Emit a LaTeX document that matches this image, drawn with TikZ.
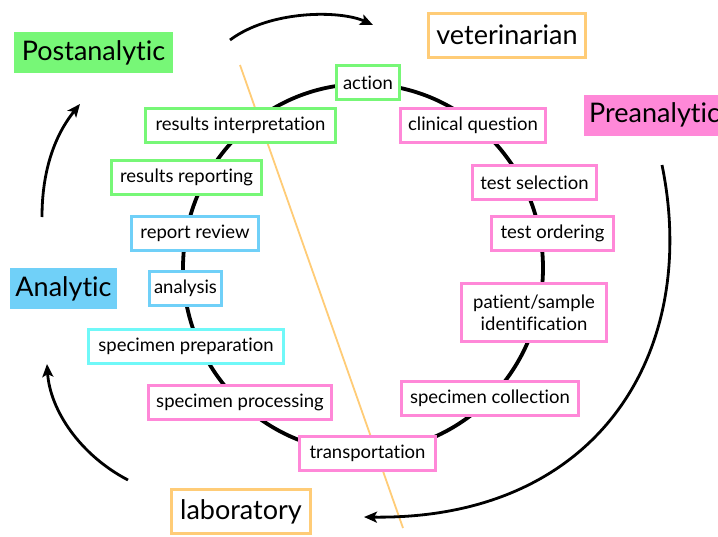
\documentclass[tikz,border=0pt]{standalone}
\usepackage{fontspec}
\setmainfont{Lato}[Ligatures={NoCommon,NoRare,NoContextual}, Contextuals=NoAlternate]
\usetikzlibrary{arrows.meta}
\definecolor{postgreen}{HTML}{77F777}
\definecolor{prepink}{HTML}{FF88D8}
\definecolor{anablue}{HTML}{70D0F8}
\definecolor{anacyan}{HTML}{70F8F8}
\definecolor{siteorange}{HTML}{FFCC77}
\begin{document}
\begin{tikzpicture}[x=1pt, y=-1pt, >={Stealth[length=13pt, width=11pt, inset=3pt]},
    every node/.style={inner sep=0pt, font=\fontsize{18.5}{22}\selectfont},
    stepbox/.style={draw=#1, line width=3pt, fill=white, minimum height=34pt},
    phase/.style={fill=#1, font=\fontsize{27}{32}\selectfont, minimum height=41pt},
    sitebox/.style={draw=siteorange, line width=3pt, fill=white, font=\fontsize{27}{32}\selectfont, minimum height=44pt},
    cycle/.style={line width=2.8pt}]
  \useasboundingbox (0,0) rectangle (718,536);
  \clip (0,0) rectangle (718,536);
  \fill[white] (0,0) rectangle (718,536);

  % 分隔线
  \coordinate (cutA) at (240,65);
  \coordinate (cutB) at (403,528);
  \draw[siteorange, line width=1.8pt] (cutA) -- (cutB);

  % 流程圈
  \draw[line width=3.8pt] (363,268) ellipse [x radius=180, y radius=184];

  % 阶段标签
  \node[phase=postgreen, minimum width=159pt] (post) at (93.5,52.5) {Postanalytic};
  \node[phase=prepink, anchor=west, inner xsep=5pt] (pre) at (584,115) {Preanalytic};
  \node[phase=anablue, minimum width=107pt] (ana) at (63.5,288.5) {Analytic};

  % 地点
  \node[sitebox, minimum width=157pt] (vet) at (507,35) {veterinarian};
  \node[sitebox, minimum width=139pt] (lab) at (241,511.5) {laboratory};

  % 各步骤
  \node[stepbox=postgreen, minimum width=63pt] (action) at (368,82.5) {action};
  \node[stepbox=postgreen, minimum width=190pt] (interp) at (240.5,125) {results interpretation};
  \node[stepbox=postgreen, minimum width=150pt] (report) at (186.5,177.5) {results reporting};
  \node[stepbox=anablue, minimum width=127pt] (review) at (195,233.5) {report review};
  \node[stepbox=anablue, minimum width=72pt] (analysis) at (185.5,288) {analysis};
  \node[stepbox=anacyan, minimum width=195pt] (prep) at (186,346.5) {specimen preparation};
  \node[stepbox=prepink, minimum width=183pt] (process) at (240,402.5) {specimen processing};
  \node[stepbox=prepink, minimum width=136pt] (transport) at (367.5,453) {transportation};
  \node[stepbox=prepink, minimum width=177pt] (collect) at (490,398.5) {specimen collection};
  \node[stepbox=prepink, minimum width=145pt, minimum height=58pt, align=center] (ident) at (534,312.5) {patient/sample\\identification};
  \node[stepbox=prepink, minimum width=122pt] (order) at (552.5,233.5) {test ordering};
  \node[stepbox=prepink, minimum width=124pt] (select) at (534.5,182.5) {test selection};
  \node[stepbox=prepink, minimum width=145pt] (question) at (473,125) {clinical question};

  % 外圈箭头
  \coordinate (topS) at (230,40);
  \coordinate (topE) at (373,25);
  \coordinate (rightS) at (662,165);
  \coordinate (rightE) at (364,517);
  \coordinate (lowS) at (128,480);
  \coordinate (lowE) at (47,364);
  \coordinate (upS) at (42,217);
  \coordinate (upE) at (80,104);
  \draw[->, cycle] (topS) .. controls (270,10) and (340,10) .. (topE);
  \draw[->, cycle] (rightS) .. controls (700,350) and (600,520) .. (rightE);
  \draw[->, cycle] (lowS) .. controls (80,455) and (50,410) .. (lowE);
  \draw[->, cycle] (upS) .. controls (42,170) and (55,135) .. (upE);
\end{tikzpicture}
\end{document}
